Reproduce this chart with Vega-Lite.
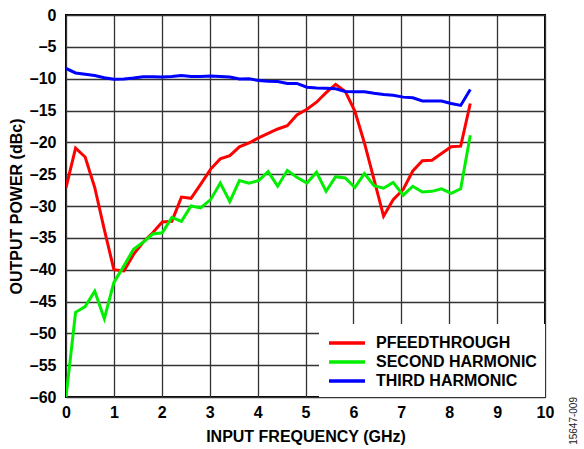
{
  "$schema": "https://vega.github.io/schema/vega-lite/v6.json",
  "width": 479,
  "height": 382,
  "autosize": "none",
  "padding": {"left": 66, "top": 15, "right": 39, "bottom": 52},
  "background": "white",
  "title": {
    "text": "15647-009",
    "orient": "right",
    "anchor": "end",
    "frame": "group",
    "angle": -90,
    "align": "right",
    "baseline": "middle",
    "offset": 10,
    "fontSize": 10,
    "fontWeight": "normal",
    "font": "Liberation Sans",
    "color": "#222"
  },
  "config": {
    "font": "Liberation Sans",
    "view": {"stroke": "black", "strokeWidth": 2},
    "axis": {
      "labelFont": "Liberation Sans",
      "labelFontWeight": "bold",
      "labelFontSize": 16,
      "labelColor": "black",
      "titleFont": "Liberation Sans",
      "titleFontWeight": "bold",
      "titleFontSize": 16,
      "titleColor": "black",
      "gridColor": "#333333",
      "gridWidth": 1.3,
      "gridOpacity": 1,
      "domain": false,
      "ticks": false
    }
  },
  "data": {
    "values": [
      {"f": 0.0, "PFEEDTHROUGH": -27.1, "SECOND HARMONIC": -60.0, "THIRD HARMONIC": -8.4},
      {"f": 0.2, "PFEEDTHROUGH": -20.9, "SECOND HARMONIC": -46.7, "THIRD HARMONIC": -9.1},
      {"f": 0.4, "PFEEDTHROUGH": -22.3, "SECOND HARMONIC": -45.8, "THIRD HARMONIC": -9.3},
      {"f": 0.6, "PFEEDTHROUGH": -27.1, "SECOND HARMONIC": -43.4, "THIRD HARMONIC": -9.5},
      {"f": 0.8, "PFEEDTHROUGH": -33.7, "SECOND HARMONIC": -47.7, "THIRD HARMONIC": -9.85},
      {"f": 1.0, "PFEEDTHROUGH": -40.0, "SECOND HARMONIC": -42.0, "THIRD HARMONIC": -10.1},
      {"f": 1.21, "PFEEDTHROUGH": -40.2, "SECOND HARMONIC": -39.4, "THIRD HARMONIC": -10.05},
      {"f": 1.41, "PFEEDTHROUGH": -37.6, "SECOND HARMONIC": -36.8, "THIRD HARMONIC": -9.9},
      {"f": 1.61, "PFEEDTHROUGH": -35.7, "SECOND HARMONIC": -35.7, "THIRD HARMONIC": -9.7},
      {"f": 1.81, "PFEEDTHROUGH": -34.2, "SECOND HARMONIC": -34.4, "THIRD HARMONIC": -9.7},
      {"f": 2.01, "PFEEDTHROUGH": -32.5, "SECOND HARMONIC": -34.2, "THIRD HARMONIC": -9.75},
      {"f": 2.21, "PFEEDTHROUGH": -32.4, "SECOND HARMONIC": -31.8, "THIRD HARMONIC": -9.65},
      {"f": 2.41, "PFEEDTHROUGH": -28.6, "SECOND HARMONIC": -32.4, "THIRD HARMONIC": -9.5},
      {"f": 2.61, "PFEEDTHROUGH": -28.8, "SECOND HARMONIC": -30.0, "THIRD HARMONIC": -9.65},
      {"f": 2.81, "PFEEDTHROUGH": -26.6, "SECOND HARMONIC": -30.3, "THIRD HARMONIC": -9.65},
      {"f": 3.02, "PFEEDTHROUGH": -24.2, "SECOND HARMONIC": -29.0, "THIRD HARMONIC": -9.6},
      {"f": 3.22, "PFEEDTHROUGH": -22.6, "SECOND HARMONIC": -26.4, "THIRD HARMONIC": -9.65},
      {"f": 3.42, "PFEEDTHROUGH": -22.1, "SECOND HARMONIC": -29.3, "THIRD HARMONIC": -9.75},
      {"f": 3.62, "PFEEDTHROUGH": -20.7, "SECOND HARMONIC": -26.0, "THIRD HARMONIC": -10.05},
      {"f": 3.82, "PFEEDTHROUGH": -20.1, "SECOND HARMONIC": -26.4, "THIRD HARMONIC": -10.0},
      {"f": 4.02, "PFEEDTHROUGH": -19.3, "SECOND HARMONIC": -26.0, "THIRD HARMONIC": -10.3},
      {"f": 4.22, "PFEEDTHROUGH": -18.6, "SECOND HARMONIC": -24.6, "THIRD HARMONIC": -10.4},
      {"f": 4.42, "PFEEDTHROUGH": -17.9, "SECOND HARMONIC": -26.9, "THIRD HARMONIC": -10.45},
      {"f": 4.62, "PFEEDTHROUGH": -17.4, "SECOND HARMONIC": -24.4, "THIRD HARMONIC": -10.75},
      {"f": 4.82, "PFEEDTHROUGH": -15.7, "SECOND HARMONIC": -25.5, "THIRD HARMONIC": -10.75},
      {"f": 5.03, "PFEEDTHROUGH": -14.8, "SECOND HARMONIC": -26.4, "THIRD HARMONIC": -11.35},
      {"f": 5.23, "PFEEDTHROUGH": -13.7, "SECOND HARMONIC": -24.7, "THIRD HARMONIC": -11.45},
      {"f": 5.43, "PFEEDTHROUGH": -12.2, "SECOND HARMONIC": -27.7, "THIRD HARMONIC": -11.5},
      {"f": 5.63, "PFEEDTHROUGH": -10.9, "SECOND HARMONIC": -25.4, "THIRD HARMONIC": -11.6},
      {"f": 5.83, "PFEEDTHROUGH": -12.0, "SECOND HARMONIC": -25.6, "THIRD HARMONIC": -12.0},
      {"f": 6.03, "PFEEDTHROUGH": -15.1, "SECOND HARMONIC": -27.1, "THIRD HARMONIC": -12.05},
      {"f": 6.23, "PFEEDTHROUGH": -20.1, "SECOND HARMONIC": -24.9, "THIRD HARMONIC": -12.05},
      {"f": 6.43, "PFEEDTHROUGH": -25.8, "SECOND HARMONIC": -26.8, "THIRD HARMONIC": -12.3},
      {"f": 6.63, "PFEEDTHROUGH": -31.6, "SECOND HARMONIC": -27.2, "THIRD HARMONIC": -12.5},
      {"f": 6.83, "PFEEDTHROUGH": -29.0, "SECOND HARMONIC": -26.3, "THIRD HARMONIC": -12.6},
      {"f": 7.04, "PFEEDTHROUGH": -27.4, "SECOND HARMONIC": -28.3, "THIRD HARMONIC": -12.9},
      {"f": 7.24, "PFEEDTHROUGH": -24.5, "SECOND HARMONIC": -26.9, "THIRD HARMONIC": -13.0},
      {"f": 7.44, "PFEEDTHROUGH": -22.9, "SECOND HARMONIC": -27.8, "THIRD HARMONIC": -13.5},
      {"f": 7.64, "PFEEDTHROUGH": -22.8, "SECOND HARMONIC": -27.7, "THIRD HARMONIC": -13.5},
      {"f": 7.84, "PFEEDTHROUGH": -21.75, "SECOND HARMONIC": -27.3, "THIRD HARMONIC": -13.5},
      {"f": 8.04, "PFEEDTHROUGH": -20.7, "SECOND HARMONIC": -28.0, "THIRD HARMONIC": -13.9},
      {"f": 8.24, "PFEEDTHROUGH": -20.6, "SECOND HARMONIC": -27.3, "THIRD HARMONIC": -14.2},
      {"f": 8.44, "PFEEDTHROUGH": -13.9, "SECOND HARMONIC": -18.9, "THIRD HARMONIC": -11.7}
    ]
  },
  "transform": [
    {"fold": ["PFEEDTHROUGH", "SECOND HARMONIC", "THIRD HARMONIC"], "as": ["series", "v"]}
  ],
  "mark": {"type": "line", "strokeWidth": 3, "clip": true},
  "encoding": {
    "x": {
      "field": "f",
      "type": "quantitative",
      "scale": {"domain": [0, 10], "nice": false, "zero": false},
      "axis": {
        "title": "INPUT FREQUENCY (GHz)",
        "values": [0, 1, 2, 3, 4, 5, 6, 7, 8, 9, 10],
        "labelPadding": 7,
        "titlePadding": 8,
        "labelFlush": false
      }
    },
    "y": {
      "field": "v",
      "type": "quantitative",
      "scale": {"domain": [-60, 0], "nice": false, "zero": false},
      "axis": {
        "title": "OUTPUT POWER (dBc)",
        "values": [0, -5, -10, -15, -20, -25, -30, -35, -40, -45, -50, -55, -60],
        "labelExpr": "datum.value < 0 ? '–' + abs(datum.value) : datum.label",
        "labelPadding": 10,
        "titlePadding": 5,
        "labelFlush": false
      }
    },
    "color": {
      "field": "series",
      "type": "nominal",
      "scale": {
        "domain": ["PFEEDTHROUGH", "SECOND HARMONIC", "THIRD HARMONIC"],
        "range": ["#ff0000", "#00ee00", "#0000ff"]
      },
      "legend": {
        "title": null,
        "orient": "bottom-right",
        "offset": 0,
        "fillColor": "white",
        "padding": 8,
        "rowPadding": 0,
        "symbolType": "M-1,0H3",
        "symbolSize": 324,
        "symbolStrokeWidth": 3.5,
        "symbolFillColor": "transparent",
        "labelOffset": 27,
        "labelFont": "Liberation Sans",
        "labelFontWeight": "bold",
        "labelFontSize": 16,
        "labelColor": "black",
        "labelLimit": 300
      }
    }
  }
}
